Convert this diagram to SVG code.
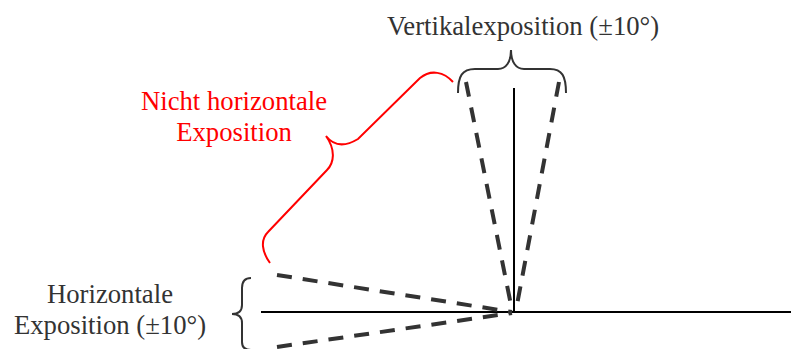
<svg xmlns="http://www.w3.org/2000/svg" width="791" height="349" viewBox="0 0 791 349">
<style>
.lbl{font-family:"Liberation Serif","Times New Roman",serif;font-size:26.7px;fill:#333}
.red{fill:#ff0000}
.axis{stroke:#000;stroke-width:2;fill:none}
.dash{stroke:#333;stroke-width:4;fill:none;stroke-dasharray:15 11}
.brace{stroke:#333;stroke-width:2;fill:none}
.rbrace{stroke:#ff0000;stroke-width:2;fill:none}
</style>
<rect width="791" height="349" fill="#fff"/>
<g id="connectors">
<line class="axis" x1="261" y1="312" x2="791" y2="312"/>
<line class="axis" x1="514" y1="88" x2="514" y2="312"/>
<line class="dash" x1="466" y1="82" x2="512" y2="310"/>
<line class="dash" x1="559" y1="82" x2="516" y2="310"/>
<line class="dash" x1="277" y1="275" x2="512" y2="312"/>
<line class="dash" x1="277" y1="347" x2="512" y2="313"/>
</g>
<g id="vertikal">
<path class="brace" d="M458,93 C458,76 462,69 475,69 L498,69 C506,69 511,62 511,50 C511,62 516,69 524,69 L550,69 C562,69 566,76 566,93"/>
<text class="lbl" x="387" y="35">Vertikalexposition (±10°)</text>
</g>
<g id="nicht-horizontal">
<path class="rbrace" d="M270,263 C262,252 260,240 268,232 L327,170 C334,163 336,150 326,136 C333,145 343,148 358,139 L420,78 C431,69 444,72 453,82"/>
<text class="lbl red" text-anchor="middle" x="234" y="110">Nicht horizontale</text>
<text class="lbl red" text-anchor="middle" x="234" y="141">Exposition</text>
</g>
<g id="horizontal">
<path class="brace" d="M251,278 C245,278 242,281 242,288 L242,305 C242,311 238,314 232,314 C238,314 242,317 242,323 L242,342 C242,347 245,350 251,350"/>
<text class="lbl" text-anchor="middle" x="110" y="303">Horizontale</text>
<text class="lbl" text-anchor="middle" x="110" y="334">Exposition (±10°)</text>
</g>
</svg>
